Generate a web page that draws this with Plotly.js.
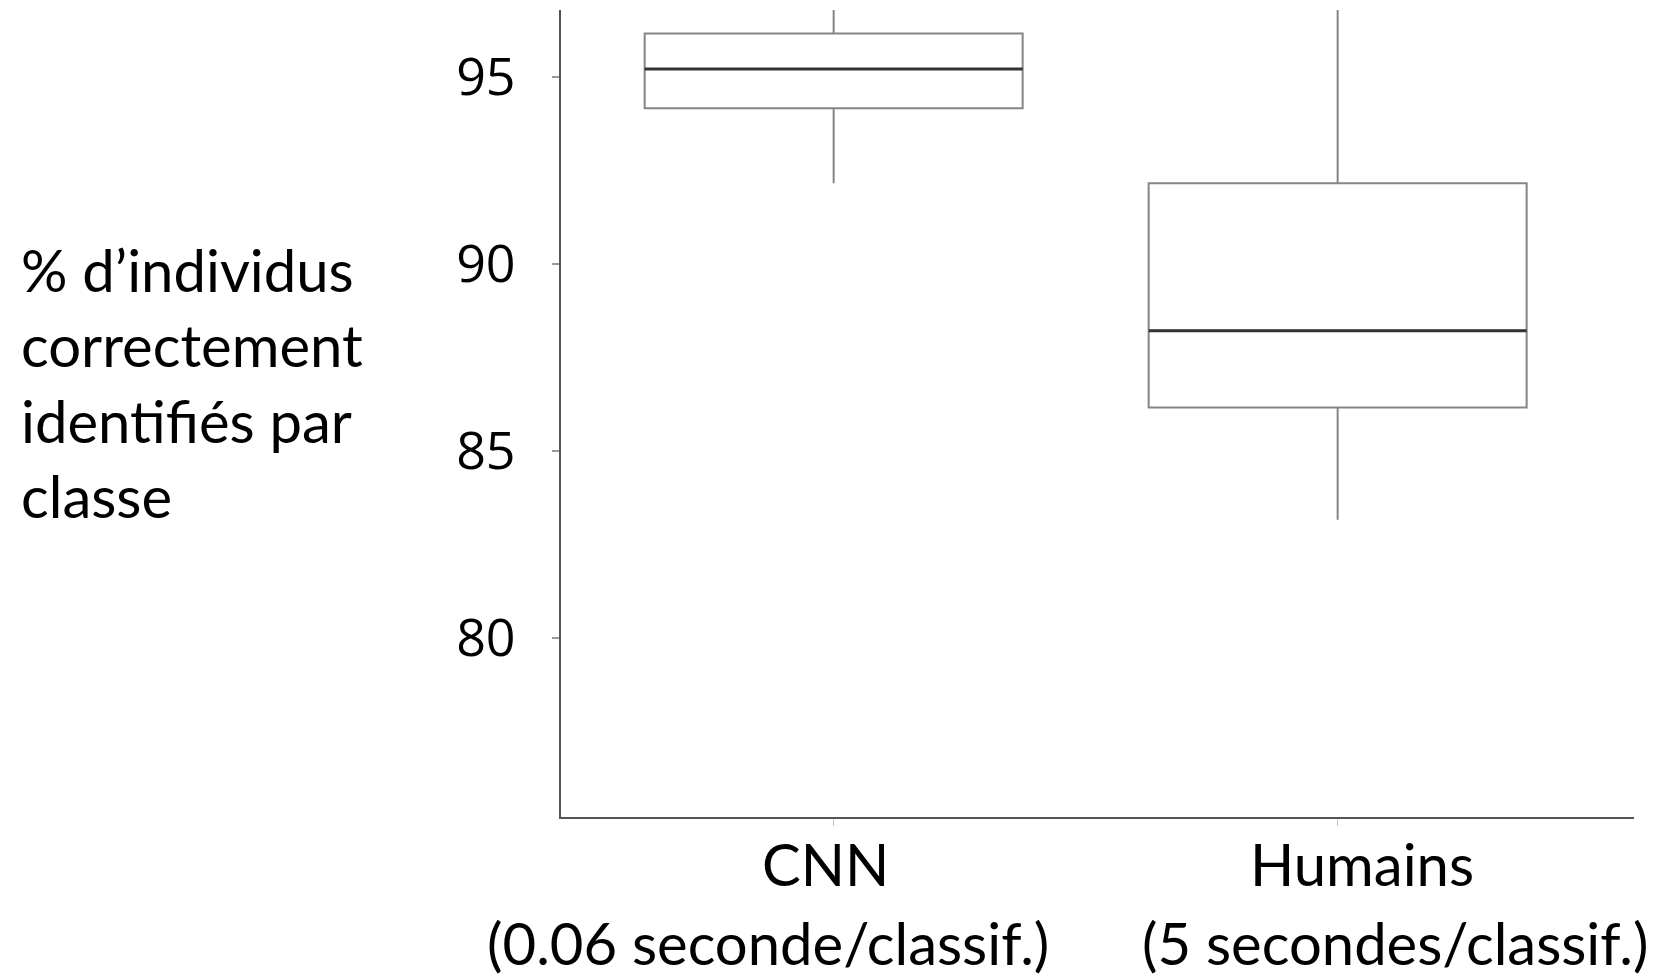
<!DOCTYPE html>
<html>
<head>
<meta charset="utf-8">
<script src="https://cdn.plot.ly/plotly-3.0.1.min.js"></script>
<style>html,body{margin:0;padding:0;background:#fff;}#chart{width:1659px;height:976px;}</style>
</head>
<body>
<div id="chart"></div>
<script>
// ---- data ----
const categories = ['CNN', 'Humains'];
const subtitles = ['(0.06 seconde/classif.)', '(5 secondes/classif.)'];
const q1 = [94.15, 86.15];
const median = [95.2, 88.2];
const q3 = [96.15, 92.15];
const lowerfence = [92.15, 83.15];
const upperfence = [97.2, 97.2];
const yTickVals = [80, 85, 90, 95];
const yTitle = '% d’individus<br>correctement<br>identifiés par<br>classe';

const catIdx = categories.map((c, i) => i);

const boxTrace = {
  type: 'box',
  x: catIdx,
  q1: q1, median: median, q3: q3,
  lowerfence: lowerfence, upperfence: upperfence,
  line: {color: '#858585', width: 2},
  fillcolor: 'rgba(255,255,255,0)',
  whiskerwidth: 0,
  boxpoints: false,
  hoverinfo: 'skip',
  showlegend: false
};
// dark median line drawn as a degenerate box on the median value
const medianTrace = {
  type: 'box',
  x: catIdx,
  q1: median, median: median, q3: median,
  lowerfence: median, upperfence: median,
  line: {color: '#333333', width: 3},
  fillcolor: 'rgba(255,255,255,0)',
  whiskerwidth: 0,
  boxpoints: false,
  hoverinfo: 'skip',
  showlegend: false
};

const textFont = {family: 'Lato, "Open Sans", sans-serif', size: 58, color: '#000'};
const xShift1 = [-8, 24];
const xShift2 = [-66, 57];

const annotations = [];
categories.forEach((c, i) => {
  annotations.push({xref: 'x', yref: 'paper', x: catIdx[i], y: -0.058, text: c,
    showarrow: false, xanchor: 'center', yanchor: 'middle', xshift: xShift1[i], font: textFont});
  annotations.push({xref: 'x', yref: 'paper', x: catIdx[i], y: -0.1555, text: subtitles[i],
    showarrow: false, xanchor: 'center', yanchor: 'middle', xshift: xShift2[i], font: textFont});
});
annotations.push({xref: 'paper', yref: 'paper', x: -0.505, y: 0.539, text: yTitle,
  showarrow: false, xanchor: 'left', yanchor: 'middle', align: 'left', font: textFont});

const layout = {
  width: 1659, height: 976,
  margin: {l: 561, r: 25, t: 10, b: 159, pad: 0},
  paper_bgcolor: '#ffffff', plot_bgcolor: '#ffffff',
  boxmode: 'overlay', boxgap: 0.25, boxgroupgap: 0,
  showlegend: false,
  xaxis: {
    range: [-0.541, 1.588],
    tickvals: catIdx, ticktext: categories,
    showticklabels: false,
    showgrid: false, zeroline: false,
    showline: true, linecolor: '#555', linewidth: 2,
    ticks: 'outside', ticklen: 7, tickwidth: 1, tickcolor: '#c4c4c4'
  },
  yaxis: {
    range: [75.2, 96.78],
    tickvals: yTickVals,
    showgrid: false, zeroline: false,
    showline: true, linecolor: '#555', linewidth: 2,
    ticks: 'outside', ticklen: 7, tickwidth: 2, tickcolor: '#9a9a9a',
    ticklabelstandoff: 26,
    tickfont: {family: '"Open Sans", sans-serif', size: 52, color: '#000'}
  },
  annotations: annotations
};

Plotly.newPlot('chart', [boxTrace, medianTrace], layout, {staticPlot: true, displayModeBar: false});
</script>
</body>
</html>
